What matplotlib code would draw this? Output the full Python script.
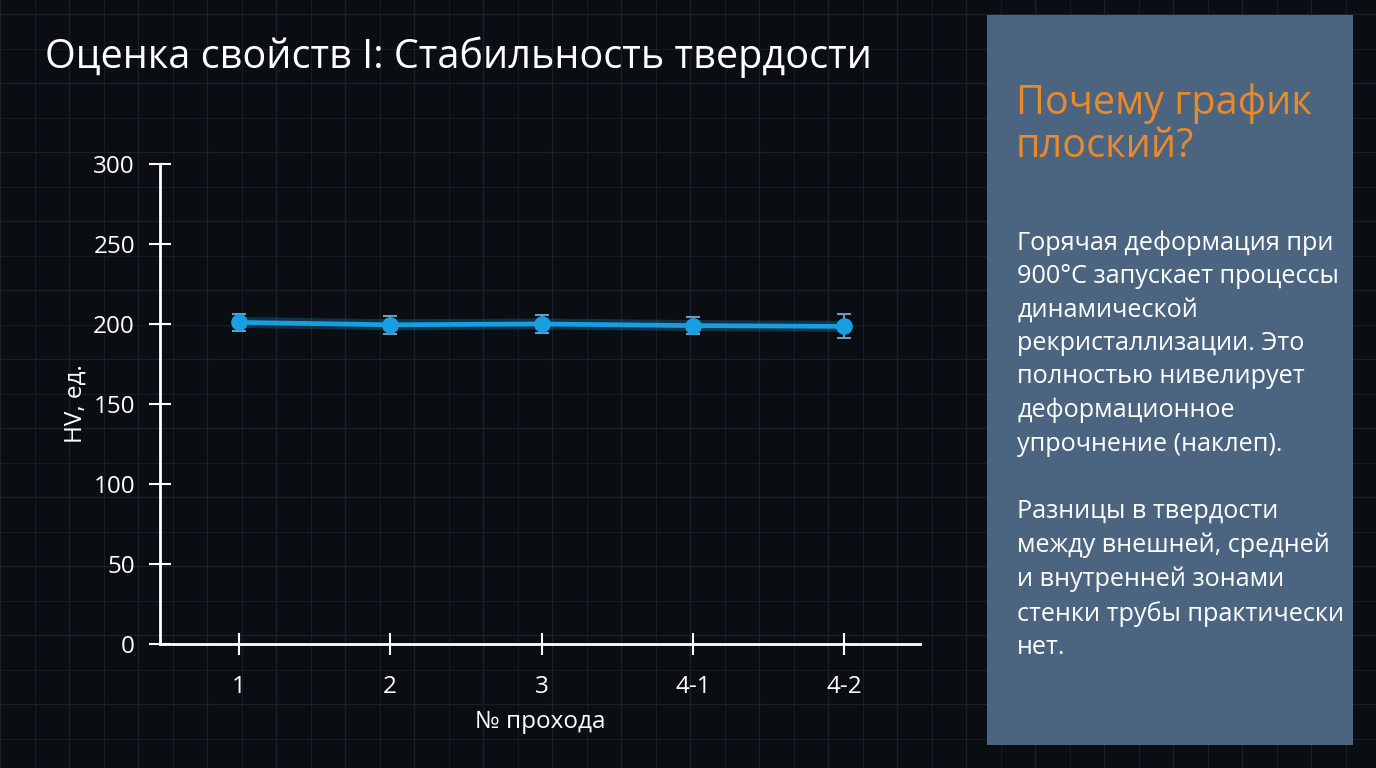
# -*- coding: utf-8 -*
import numpy as np
import matplotlib
matplotlib.use('Agg')
import matplotlib.pyplot as plt
from matplotlib.patches import Rectangle

plt.rcParams['font.family'] = ['Open Sans', 'DejaVu Sans']

# data
passes = ['1', '2', '3', '4-1', '4-2']
hv = [201, 199.5, 200, 199, 198.5]
hv_err = [5.5, 5.5, 5.5, 5.5, 7.5]
y_ticks = [0, 50, 100, 150, 200, 250, 300]

title = 'Оценка свойств I: Стабильность твердости'
side_title = 'Почему график\nплоский?'
side_text = ('Горячая деформация при\n900°C запускает процессы\nдинамической\n'
             'рекристаллизации. Это\nполностью нивелирует\nдеформационное\n'
             'упрочнение (наклеп).\n\n'
             'Разницы в твердости\nмежду внешней, средней\nи внутренней зонами\n'
             'стенки трубы практически\nнет.')

BG = '#0a0d12'
LINE = '#1a9ee2'
W, H = 1376, 768

fig = plt.figure(figsize=(W / 100, H / 100), dpi=100, facecolor=BG)

# faint blueprint grid behind everything
bg = fig.add_axes([0, 0, 1, 1], zorder=0)
bg.set_xlim(0, W)
bg.set_ylim(H, 0)
bg.axis('off')
for i, x in enumerate(np.arange(0, W, 34.5)):
    bg.axvline(x, color='#19212b', lw=1.0 if i % 2 == 0 else 0.6, zorder=1)
for i, y in enumerate(np.arange(14, H, 34.5)):
    bg.axhline(y, color='#19212b', lw=1.0 if i % 2 == 0 else 0.6, zorder=1)

# side panel
bg.add_patch(Rectangle((987, 15), 366, 730, facecolor='#4b6581',
                       edgecolor='none', zorder=5))
bg.text(1016, 84, side_title, color='#e8892c', fontsize=28.5, va='top',
        ha='left', linespacing=1.08, zorder=6)
bg.text(1017, 230, side_text, color='white', fontsize=18.2, va='top', ha='left',
        linespacing=1.445, zorder=6)

bg.text(45, 68, title, color='white', fontsize=28.5, va='baseline', ha='left',
        zorder=6)

# chart
ax = fig.add_axes([160 / W, 1 - 644 / H, 760 / W, 480 / H], zorder=2)
ax.set_facecolor('none')
x = np.arange(len(passes))
ax.plot(x, hv, color=LINE, lw=8, alpha=0.25, solid_capstyle='round', zorder=2)
ax.errorbar(x, hv, yerr=hv_err, color=LINE, lw=3.4, marker='o', ms=11,
            ecolor='#6a9cbc', elinewidth=1.5, capsize=5, capthick=1.5, zorder=3)

ax.set_xlim(-0.52, 4.5)
ax.set_ylim(0, 300)
ax.set_xticks(x)
ax.set_xticklabels(passes)
ax.set_yticks(y_ticks)
for side in ['top', 'right']:
    ax.spines[side].set_visible(False)
for side in ['left', 'bottom']:
    ax.spines[side].set_color('white')
    ax.spines[side].set_linewidth(2)
ax.tick_params(colors='white', direction='inout', length=16, width=1.5,
               labelsize=17.5)
ax.tick_params(axis='y', pad=10)
ax.tick_params(axis='x', pad=14)
ax.set_xlabel('№ прохода', color='white', fontsize=17.5, labelpad=8)
ax.set_ylabel('HV, ед.', color='white', fontsize=17.5, labelpad=4)

plt.savefig('out.png', dpi=100, facecolor=BG)
